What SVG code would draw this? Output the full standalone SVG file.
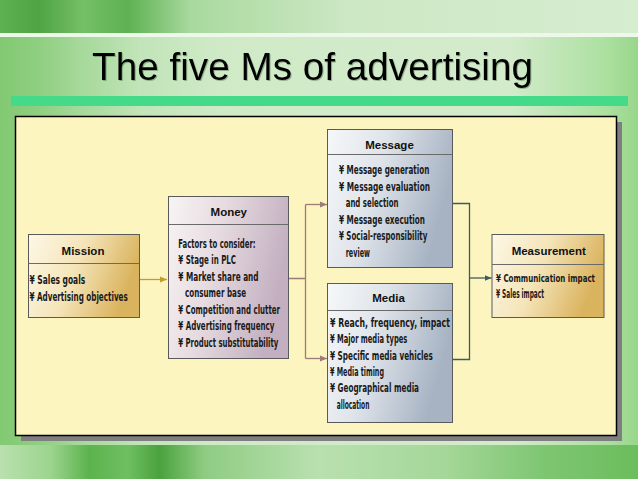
<svg xmlns="http://www.w3.org/2000/svg" width="638" height="479" viewBox="0 0 638 479">
  <defs>
    <linearGradient id="bgH" x1="0" y1="0" x2="1" y2="0">
      <stop offset="0" stop-color="#92d083"/>
      <stop offset="0.12" stop-color="#b7e0ad"/>
      <stop offset="0.35" stop-color="#d0eac8"/>
      <stop offset="0.8" stop-color="#d3ebcb"/>
      <stop offset="0.95" stop-color="#ace0a0"/>
      <stop offset="1" stop-color="#98d68b"/>
    </linearGradient>
    <linearGradient id="bgTop" x1="0" y1="0" x2="1" y2="0">
      <stop offset="0" stop-color="#5fb152"/>
      <stop offset="0.06" stop-color="#4fa443"/>
      <stop offset="0.13" stop-color="#74c066"/>
      <stop offset="0.2" stop-color="#5eb152"/>
      <stop offset="0.3" stop-color="#a9d99e"/>
      <stop offset="0.55" stop-color="#cde8c5"/>
      <stop offset="1" stop-color="#d6edcf"/>
    </linearGradient>
    <linearGradient id="bgBot" x1="0" y1="0" x2="1" y2="0">
      <stop offset="0" stop-color="#b9e1ae"/>
      <stop offset="0.08" stop-color="#9cd48e"/>
      <stop offset="0.14" stop-color="#5cb34d"/>
      <stop offset="0.2" stop-color="#6fbf61"/>
      <stop offset="0.25" stop-color="#4aa23d"/>
      <stop offset="0.32" stop-color="#8fcc82"/>
      <stop offset="0.5" stop-color="#b9e0b0"/>
      <stop offset="0.7" stop-color="#a4d798"/>
      <stop offset="0.85" stop-color="#7fc672"/>
      <stop offset="1" stop-color="#6bbd5d"/>
    </linearGradient>
    <linearGradient id="bgLeft" x1="0" y1="0" x2="1" y2="0">
      <stop offset="0" stop-color="#7cc66c" stop-opacity="0.7"/>
      <stop offset="1" stop-color="#7cc66c" stop-opacity="0"/>
    </linearGradient>
    <linearGradient id="gold" x1="0" y1="0" x2="1" y2="0.3">
      <stop offset="0" stop-color="#fdf8e6"/>
      <stop offset="0.5" stop-color="#f4e4b8"/>
      <stop offset="1" stop-color="#dab35e"/>
    </linearGradient>
    <linearGradient id="mauve" x1="0" y1="0" x2="1" y2="0.3">
      <stop offset="0" stop-color="#f8f4f4"/>
      <stop offset="0.45" stop-color="#e6dbe0"/>
      <stop offset="1" stop-color="#c3afc0"/>
    </linearGradient>
    <linearGradient id="blue" x1="0" y1="0" x2="1" y2="0.3">
      <stop offset="0" stop-color="#f6f8fa"/>
      <stop offset="0.45" stop-color="#dfe4ea"/>
      <stop offset="1" stop-color="#a7b3c3"/>
    </linearGradient>
    <filter id="tshadow" x="-5%" y="-20%" width="110%" height="140%">
      <feDropShadow dx="1" dy="1" stdDeviation="0.6" flood-color="#3a5a3a" flood-opacity="0.4"/>
    </filter>
    <marker id="arrGold" markerUnits="userSpaceOnUse" markerWidth="8" markerHeight="8" refX="7" refY="4" orient="auto">
      <path d="M0,1 L7,4 L0,7 z" fill="#c39b2e"/>
    </marker>
    <marker id="arrMauve" markerUnits="userSpaceOnUse" markerWidth="8" markerHeight="8" refX="7" refY="4" orient="auto">
      <path d="M0,1 L7,4 L0,7 z" fill="#9e7a78"/>
    </marker>
    <marker id="arrSlate" markerUnits="userSpaceOnUse" markerWidth="8" markerHeight="8" refX="7" refY="4" orient="auto">
      <path d="M0,1 L7,4 L0,7 z" fill="#3e5b5b"/>
    </marker>
  </defs>
  <style>
    .box { stroke: #5a5a5a; stroke-width: 1; }
    .div { stroke: #6a6a6a; stroke-width: 1; }
    .hd { font-family: "Liberation Sans", Arial, sans-serif; font-weight: bold; font-size: 11.5px; fill: #111; text-anchor: middle; }
    .bd { font-family: "Liberation Sans Narrow", "DejaVu Sans Condensed", "Liberation Sans", sans-serif; font-weight: bold; font-size: 11.5px; fill: #1a1a1a; }
    .sm { font-size: 10.5px; }
    .cn { fill: none; stroke-width: 1.3; }
  </style>

  <!-- background -->
  <rect x="0" y="0" width="638" height="479" fill="url(#bgH)"/>
  <rect x="0" y="37" width="140" height="408" fill="url(#bgLeft)"/>
  <rect x="0" y="0" width="638" height="33" fill="url(#bgTop)"/>
  <rect x="0" y="33" width="638" height="4" fill="#eef8ea"/>
  <rect x="0" y="445" width="638" height="34" fill="url(#bgBot)"/>

  <!-- title -->
  <text x="92" y="80" font-family="Liberation Sans, Arial, sans-serif" font-size="39" fill="#000" textLength="441" lengthAdjust="spacingAndGlyphs" filter="url(#tshadow)">The five Ms of advertising</text>
  <rect x="11" y="96" width="617" height="10" fill="#45d98a"/>

  <!-- panel -->
  <rect x="21" y="122" width="601" height="319" fill="#7f7f7f"/>
  <rect x="15.5" y="116.5" width="601" height="319" fill="#fcf5c0" stroke="#000" stroke-width="1.5"/>

  <!-- connectors -->
  <g id="connectors">
    <path class="cn" stroke="#c39b2e" d="M140,279.5 H167" marker-end="url(#arrGold)"/>
    <path class="cn" stroke="#9e7a78" d="M288.5,278.5 H305.5 M305.5,204.5 V358.5"/>
    <path class="cn" stroke="#9e7a78" d="M305.5,204.5 H327" marker-end="url(#arrMauve)"/>
    <path class="cn" stroke="#9e7a78" d="M305.5,358.5 H327" marker-end="url(#arrMauve)"/>
    <path class="cn" stroke="#3e5b5b" d="M452.5,203.5 H469.5 V359.5 H452.5"/>
    <path class="cn" stroke="#3e5b5b" d="M469.5,278 H491.5" marker-end="url(#arrSlate)"/>
  </g>

  <!-- Mission -->
  <g id="mission">
    <rect class="box" x="28.5" y="234.5" width="111" height="83" fill="url(#gold)"/>
    <line class="div" x1="28.5" y1="263.5" x2="139.5" y2="263.5"/>
    <text class="hd" x="83" y="254.5">Mission</text>
    <text class="bd" x="29.5" y="284" textLength="55.7" lengthAdjust="spacingAndGlyphs">¥ Sales goals</text>
    <text class="bd" x="29.5" y="300.5" textLength="98.3" lengthAdjust="spacingAndGlyphs">¥ Advertising objectives</text>
  </g>

  <!-- Money -->
  <g id="money">
    <rect class="box" x="168.5" y="196.5" width="120" height="162" fill="url(#mauve)"/>
    <line class="div" x1="168.5" y1="224.5" x2="288.5" y2="224.5"/>
    <text class="hd" x="228.8" y="215.5">Money</text>
    <text class="bd" x="178.3" y="247.7" textLength="77.3" lengthAdjust="spacingAndGlyphs">Factors to consider:</text>
    <text class="bd" x="178.3" y="264.2" textLength="57.7" lengthAdjust="spacingAndGlyphs">¥ Stage in PLC</text>
    <text class="bd" x="178.3" y="280.7" textLength="80.3" lengthAdjust="spacingAndGlyphs">¥ Market share and</text>
    <text class="bd" x="185" y="297.2" textLength="61" lengthAdjust="spacingAndGlyphs">consumer base</text>
    <text class="bd" x="178.3" y="313.7" textLength="101.7" lengthAdjust="spacingAndGlyphs">¥ Competition and clutter</text>
    <text class="bd" x="178.3" y="330.2" textLength="96" lengthAdjust="spacingAndGlyphs">¥ Advertising frequency</text>
    <text class="bd" x="178.3" y="346.7" textLength="100" lengthAdjust="spacingAndGlyphs">¥ Product substitutability</text>
  </g>

  <!-- Message -->
  <g id="message">
    <rect class="box" x="327.5" y="129.5" width="125" height="138" fill="url(#blue)"/>
    <line class="div" x1="327.5" y1="154.5" x2="452.5" y2="154.5"/>
    <text class="hd" x="389.5" y="148.5">Message</text>
    <text class="bd" x="339" y="174" textLength="90.3" lengthAdjust="spacingAndGlyphs">¥ Message generation</text>
    <text class="bd" x="339" y="190.5" textLength="91" lengthAdjust="spacingAndGlyphs">¥ Message evaluation</text>
    <text class="bd" x="345.7" y="207" textLength="52.7" lengthAdjust="spacingAndGlyphs">and selection</text>
    <text class="bd" x="339" y="223.5" textLength="86" lengthAdjust="spacingAndGlyphs">¥ Message execution</text>
    <text class="bd" x="339" y="240" textLength="88.3" lengthAdjust="spacingAndGlyphs">¥ Social-responsibility</text>
    <text class="bd" x="345.7" y="256.5" textLength="24.3" lengthAdjust="spacingAndGlyphs">review</text>
  </g>

  <!-- Media -->
  <g id="media">
    <rect class="box" x="327.5" y="283.5" width="125" height="139" fill="url(#blue)"/>
    <line class="div" x1="327.5" y1="310.5" x2="452.5" y2="310.5"/>
    <text class="hd" x="388.5" y="302">Media</text>
    <text class="bd" x="330" y="326.7" textLength="120" lengthAdjust="spacingAndGlyphs">¥ Reach, frequency, impact</text>
    <text class="bd" x="330" y="343.2" textLength="77.3" lengthAdjust="spacingAndGlyphs">¥ Major media types</text>
    <text class="bd" x="330" y="359.6" textLength="102.7" lengthAdjust="spacingAndGlyphs">¥ Specific media vehicles</text>
    <text class="bd" x="330" y="376" textLength="54" lengthAdjust="spacingAndGlyphs">¥ Media timing</text>
    <text class="bd" x="330" y="392.4" textLength="89" lengthAdjust="spacingAndGlyphs">¥ Geographical media</text>
    <text class="bd" x="336.7" y="408.6" textLength="32.7" lengthAdjust="spacingAndGlyphs">allocation</text>
  </g>

  <!-- Measurement -->
  <g id="measurement">
    <rect class="box" x="492" y="234.5" width="112" height="83" fill="url(#gold)"/>
    <line class="div" x1="492" y1="264.5" x2="604" y2="264.5"/>
    <text class="hd" x="548.7" y="254.5">Measurement</text>
    <text class="bd sm" x="496" y="281.5" textLength="99" lengthAdjust="spacingAndGlyphs">¥ Communication impact</text>
    <text class="bd" x="496" y="297.8" textLength="48" lengthAdjust="spacingAndGlyphs">¥ Sales impact</text>
  </g>
</svg>
